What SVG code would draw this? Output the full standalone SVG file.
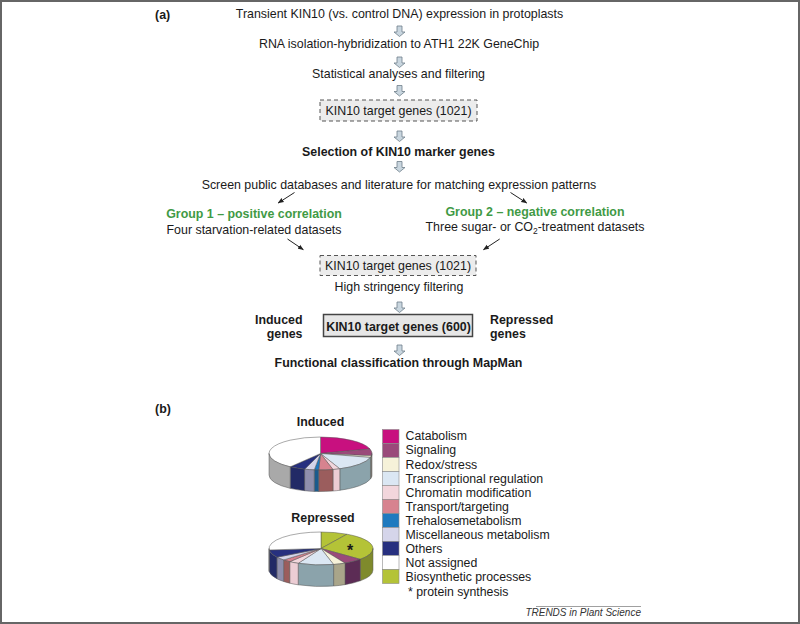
<svg xmlns="http://www.w3.org/2000/svg" xmlns:xlink="http://www.w3.org/1999/xlink" width="800" height="624" viewBox="0 0 800 624">
<style>
text{font-family:"Liberation Sans",Arial,sans-serif;font-size:12.4px;fill:#1a1a1a}
.c{text-anchor:middle}
.b{font-weight:bold}
.g{fill:#3f9a45;font-weight:bold}
.lg{font-size:12.3px}
.dash{fill:#ececec;stroke:#555;stroke-width:1;stroke-dasharray:4 3}
.solid{fill:#e6e6e6;stroke:#444;stroke-width:1.5}
.ba{fill:#c9d6df;stroke:#6f7f8a;stroke-width:0.8}
.ar{stroke:#222;stroke-width:1;fill:none}
.pie path{stroke:#555;stroke-width:0.5;stroke-linejoin:round}
.sw{stroke:#8a8a8a;stroke-width:0.6}
</style>
<defs>
<path id="barrow" d="M-2.5,0 H2.5 V6 H5.5 L0,10.5 L-5.5,6 H-2.5 Z"/>
<marker id="ah" viewBox="0 0 10 10" refX="9" refY="5" markerWidth="6" markerHeight="6" orient="auto" markerUnits="userSpaceOnUse">
<path d="M0,1 L10,5 L0,9 Z" fill="#222"/>
</marker>
</defs>
<rect x="1" y="1" width="798" height="622" fill="#fff" stroke="#666" stroke-width="2"/>

<g id="label-a"><text x="155" y="19" class="b">(a)</text></g>

<g id="step-transient"><text x="399.5" y="17.5" class="c">Transient KIN10 (vs. control DNA) expression in protoplasts</text></g>
<g id="step-rna"><text x="399" y="47.5" class="c">RNA isolation-hybridization to ATH1 22K GeneChip</text></g>
<g id="step-stat"><text x="398.5" y="77.5" class="c">Statistical analyses and filtering</text></g>
<g id="box-1021a">
<rect x="320" y="100" width="157" height="21" class="dash"/>
<text x="398.5" y="115.3" class="c">KIN10 target genes (1021)</text>
</g>
<g id="step-selection"><text x="398.5" y="156" class="c b">Selection of KIN10 marker genes</text></g>
<g id="step-screen"><text x="399" y="188.5" class="c">Screen public databases and literature for matching expression patterns</text></g>
<g id="group1">
<text x="254" y="218" class="c g">Group 1 – positive correlation</text>
<text x="254" y="233.5" class="c">Four starvation-related datasets</text>
</g>
<g id="group2">
<text x="535" y="215.7" class="c g">Group 2 – negative correlation</text>
<text x="535" y="231" class="c">Three sugar- or CO<tspan font-size="8.5" dy="3">2</tspan><tspan dy="-3">-treatment datasets</tspan></text>
</g>
<g id="box-1021b">
<rect x="320" y="255.5" width="156" height="20" class="dash"/>
<text x="398" y="270" class="c">KIN10 target genes (1021)</text>
</g>
<g id="step-high"><text x="399" y="290.5" class="c">High stringency filtering</text></g>
<g id="box-600">
<rect x="323.5" y="314.5" width="149" height="22" class="solid"/>
<text x="398.5" y="330.5" class="c b">KIN10 target genes (600)</text>
</g>
<g id="label-induced-genes">
<text x="302.5" y="323.5" text-anchor="end" class="b">Induced</text>
<text x="302.5" y="338" text-anchor="end" class="b">genes</text>
</g>
<g id="label-repressed-genes">
<text x="490" y="323.5" class="b">Repressed</text>
<text x="490" y="338" class="b">genes</text>
</g>
<g id="step-functional"><text x="398.5" y="367" class="c b">Functional classification through MapMan</text></g>

<g id="connectors">
<use xlink:href="#barrow" href="#barrow" x="399.5" y="26" class="ba"/>
<use xlink:href="#barrow" href="#barrow" x="399.5" y="57" class="ba"/>
<use xlink:href="#barrow" href="#barrow" x="399.5" y="85.5" class="ba"/>
<use xlink:href="#barrow" href="#barrow" x="399.5" y="131" class="ba"/>
<use xlink:href="#barrow" href="#barrow" x="399.5" y="161.5" class="ba"/>
<use xlink:href="#barrow" href="#barrow" x="399.5" y="302" class="ba"/>
<use xlink:href="#barrow" href="#barrow" x="399.5" y="345" class="ba"/>
<line x1="294.5" y1="192.5" x2="278.2" y2="203" class="ar" marker-end="url(#ah)"/>
<line x1="510.5" y1="192.5" x2="526.7" y2="203" class="ar" marker-end="url(#ah)"/>
<line x1="287.5" y1="239" x2="303.3" y2="249.7" class="ar" marker-end="url(#ah)"/>
<line x1="499.7" y1="239" x2="483.5" y2="249.7" class="ar" marker-end="url(#ah)"/>
</g>

<g id="label-b"><text x="155" y="413" class="b">(b)</text></g>

<g id="pie-induced" class="pie">
<text x="320.5" y="426" class="c b">Induced</text>
<path d="M320.5,453.5 L320.5,437 A51.5,16.5 0 0 1 370.01,448.95 Z" fill="#c8107f"/>
<path d="M320.5,453.5 L370.01,448.95 A51.5,16.5 0 0 1 371.5,455.8 Z" fill="#9a4a7a"/>
<path d="M320.5,453.5 L371.5,455.8 A51.5,16.5 0 0 1 370.47,457.49 Z" fill="#f6f2d9"/>
<path d="M320.5,453.5 L370.47,457.49 A51.5,16.5 0 0 1 339.79,468.8 Z" fill="#dbe7f3"/>
<path d="M320.5,453.5 L339.79,468.8 A51.5,16.5 0 0 1 332.96,469.51 Z" fill="#f2d6dc"/>
<path d="M320.5,453.5 L332.96,469.51 A51.5,16.5 0 0 1 318.7,469.99 Z" fill="#d7838f"/>
<path d="M320.5,453.5 L318.7,469.99 A51.5,16.5 0 0 1 314.22,469.88 Z" fill="#1f7abf"/>
<path d="M320.5,453.5 L314.22,469.88 A51.5,16.5 0 0 1 304.59,469.19 Z" fill="#d5d5ea"/>
<path d="M320.5,453.5 L304.59,469.19 A51.5,16.5 0 0 1 290.23,466.85 Z" fill="#27307f"/>
<path d="M320.5,453.5 L290.23,466.85 A51.5,16.5 0 0 1 320.5,437 Z" fill="#ffffff"/>
<path d="M372,453.5 A51.5,16.5 0 0 1 371.5,455.8 L371.5,477.3 A51.5,16.5 0 0 0 372,475 Z" fill="#5e2a4c"/>
<path d="M371.5,455.8 A51.5,16.5 0 0 1 370.47,457.49 L370.47,478.99 A51.5,16.5 0 0 0 371.5,477.3 Z" fill="#b0ad95"/>
<path d="M370.47,457.49 A51.5,16.5 0 0 1 339.79,468.8 L339.79,490.3 A51.5,16.5 0 0 0 370.47,478.99 Z" fill="#8ba3ab"/>
<path d="M339.79,468.8 A51.5,16.5 0 0 1 332.96,469.51 L332.96,491.01 A51.5,16.5 0 0 0 339.79,490.3 Z" fill="#eccdd4"/>
<path d="M332.96,469.51 A51.5,16.5 0 0 1 318.7,469.99 L318.7,491.49 A51.5,16.5 0 0 0 332.96,491.01 Z" fill="#9b5d5d"/>
<path d="M318.7,469.99 A51.5,16.5 0 0 1 314.22,469.88 L314.22,491.38 A51.5,16.5 0 0 0 318.7,491.49 Z" fill="#1a5a8c"/>
<path d="M314.22,469.88 A51.5,16.5 0 0 1 304.59,469.19 L304.59,490.69 A51.5,16.5 0 0 0 314.22,491.38 Z" fill="#8f8fad"/>
<path d="M304.59,469.19 A51.5,16.5 0 0 1 290.23,466.85 L290.23,488.35 A51.5,16.5 0 0 0 304.59,490.69 Z" fill="#222a66"/>
<path d="M290.23,466.85 A51.5,16.5 0 0 1 269,453.5 L269,475 A51.5,16.5 0 0 0 290.23,488.35 Z" fill="#a9a9a9"/>
</g>

<g id="pie-repressed" class="pie">
<text x="323" y="521.5" class="c b">Repressed</text>
<path d="M321,548.5 L321,532 A52,16.5 0 0 1 347,534.21 Z" fill="#b4c337"/>
<path d="M321,548.5 L347,534.21 A52,16.5 0 0 1 360.24,559.33 Z" fill="#b4c337"/>
<path d="M321,548.5 L360.24,559.33 A52,16.5 0 0 1 345.01,563.14 Z" fill="#9a4a7a"/>
<path d="M321,548.5 L345.01,563.14 A52,16.5 0 0 1 333.58,564.51 Z" fill="#f6f2d9"/>
<path d="M321,548.5 L333.58,564.51 A52,16.5 0 0 1 298.2,563.33 Z" fill="#dbe7f3"/>
<path d="M321,548.5 L298.2,563.33 A52,16.5 0 0 1 289.71,561.68 Z" fill="#f2d6dc"/>
<path d="M321,548.5 L289.71,561.68 A52,16.5 0 0 1 283.6,559.96 Z" fill="#d7838f"/>
<path d="M321,548.5 L283.6,559.96 A52,16.5 0 0 1 276.9,557.24 Z" fill="#d5d5ea"/>
<path d="M321,548.5 L276.9,557.24 A52,16.5 0 0 1 269.2,549.94 Z" fill="#27307f"/>
<path d="M321,548.5 L269.2,549.94 A52,16.5 0 0 1 321,532 Z" fill="#ffffff"/>
<path d="M373,548.5 A52,16.5 0 0 1 360.24,559.33 L360.24,580.83 A52,16.5 0 0 0 373,570 Z" fill="#7f8a2c"/>
<path d="M360.24,559.33 A52,16.5 0 0 1 345.01,563.14 L345.01,584.64 A52,16.5 0 0 0 360.24,580.83 Z" fill="#5c2c55"/>
<path d="M345.01,563.14 A52,16.5 0 0 1 333.58,564.51 L333.58,586.01 A52,16.5 0 0 0 345.01,584.64 Z" fill="#a9a58a"/>
<path d="M333.58,564.51 A52,16.5 0 0 1 298.2,563.33 L298.2,584.83 A52,16.5 0 0 0 333.58,586.01 Z" fill="#8ba3ab"/>
<path d="M298.2,563.33 A52,16.5 0 0 1 289.71,561.68 L289.71,583.18 A52,16.5 0 0 0 298.2,584.83 Z" fill="#eccdd4"/>
<path d="M289.71,561.68 A52,16.5 0 0 1 283.6,559.96 L283.6,581.46 A52,16.5 0 0 0 289.71,583.18 Z" fill="#9b5d5d"/>
<path d="M283.6,559.96 A52,16.5 0 0 1 276.9,557.24 L276.9,578.74 A52,16.5 0 0 0 283.6,581.46 Z" fill="#8f8fad"/>
<path d="M276.9,557.24 A52,16.5 0 0 1 269.2,549.94 L269.2,571.44 A52,16.5 0 0 0 276.9,578.74 Z" fill="#222a66"/>
<path d="M269.2,549.94 A52,16.5 0 0 1 269,548.5 L269,570 A52,16.5 0 0 0 269.2,571.44 Z" fill="#a9a9a9"/>
<text x="350" y="555.5" class="c b" style="font-size:16px">*</text>
</g>

<g id="legend">
<rect x="382.5" y="429.5" width="16.5" height="14" fill="#c8107f" class="sw"/>
<rect x="382.5" y="443.5" width="16.5" height="14" fill="#9a4a7a" class="sw"/>
<rect x="382.5" y="457.5" width="16.5" height="14" fill="#f6f2d9" class="sw"/>
<rect x="382.5" y="471.5" width="16.5" height="14" fill="#dbe7f3" class="sw"/>
<rect x="382.5" y="485.5" width="16.5" height="14" fill="#f2d6dc" class="sw"/>
<rect x="382.5" y="499.5" width="16.5" height="14" fill="#d7838f" class="sw"/>
<rect x="382.5" y="513.5" width="16.5" height="14" fill="#1f7abf" class="sw"/>
<rect x="382.5" y="527.5" width="16.5" height="14" fill="#d5d5ea" class="sw"/>
<rect x="382.5" y="541.5" width="16.5" height="14" fill="#27307f" class="sw"/>
<rect x="382.5" y="555.5" width="16.5" height="14" fill="#ffffff" class="sw"/>
<rect x="382.5" y="569.5" width="16.5" height="14" fill="#b4c337" class="sw"/>
<text x="405.5" y="440.3" class="lg">Catabolism</text>
<text x="405.5" y="454.4" class="lg">Signaling</text>
<text x="405.5" y="468.5" class="lg">Redox/stress</text>
<text x="405.5" y="482.6" class="lg">Transcriptional regulation</text>
<text x="405.5" y="496.7" class="lg">Chromatin modification</text>
<text x="405.5" y="510.8" class="lg">Transport/targeting</text>
<text x="405.5" y="524.9" class="lg" word-spacing="-4.5">Trehalose metabolism</text>
<text x="405.5" y="539" class="lg">Miscellaneous metabolism</text>
<text x="405.5" y="553.1" class="lg">Others</text>
<text x="405.5" y="567.2" class="lg">Not assigned</text>
<text x="405.5" y="581.3" class="lg">Biosynthetic processes</text>
<text x="408" y="596" class="lg">* protein synthesis</text>
</g>

<g id="credit">
<line x1="536" y1="606.5" x2="641" y2="606.5" stroke="#888" stroke-width="0.8"/>
<text x="641" y="615.5" text-anchor="end" style="font-size:10px;font-style:italic;fill:#333">TRENDS in Plant Science</text>
</g>
</svg>
